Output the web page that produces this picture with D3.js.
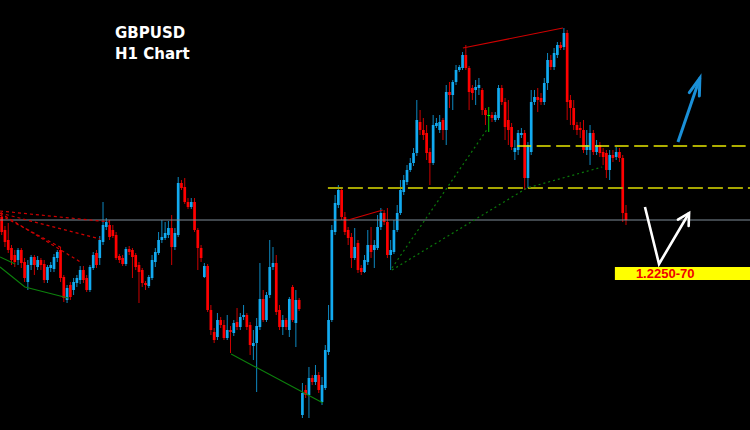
<!DOCTYPE html>
<html><head><meta charset="utf-8">
<script src="https://cdn.jsdelivr.net/npm/d3@7"></script>
<style>html,body{margin:0;padding:0;background:#000;}svg{display:block;}</style>
</head><body>
<svg id="c" width="750" height="430"></svg>
<script>
// GBPUSD H1 candles (price values)
const opens = [
1.2313,1.2300,1.2290,1.2282,1.2275,1.2270,1.2280,1.2268,1.2248,1.2265,
1.2273,1.2263,1.2270,1.2266,1.2250,1.2262,1.2261,1.2272,1.2280,1.2253,
1.2230,1.2245,1.2240,1.2247,1.2250,1.2260,1.2252,1.2240,1.2262,1.2277,
1.2272,1.2288,1.2303,1.2305,1.2300,1.2295,1.2274,1.2272,1.2266,1.2281,
1.2280,1.2275,1.2265,1.2260,1.2247,1.2244,1.2252,1.2268,1.2277,1.2290,
1.2292,1.2295,1.2302,1.2283,1.2295,1.2347,1.2343,1.2328,1.2323,1.2328,
1.2300,1.2282,1.2253,1.2264,1.2220,1.2198,1.2193,1.2210,1.2205,1.2192,
1.2200,1.2197,1.2208,1.2203,1.2213,1.2215,1.2205,1.2184,1.2187,1.2203,
1.2231,1.2210,1.2235,1.2263,1.2267,1.2220,1.2203,1.2210,1.2200,1.2243,
1.2207,1.2230,1.2115,1.2140,1.2135,1.2152,1.2148,1.2155,1.2128,1.2142,
1.2178,1.2210,1.2298,1.2325,1.2340,1.2313,1.2300,1.2293,1.2272,1.2287,
1.2262,1.2258,1.2268,1.2285,1.2280,1.2282,1.2303,1.2317,1.2308,1.2275,
1.2278,1.2300,1.2317,1.2338,1.2348,1.2360,1.2367,1.2377,1.2408,1.2400,
1.2397,1.2378,1.2367,1.2404,1.2400,1.2410,1.2400,1.2438,1.2435,1.2448,
1.2460,1.2462,1.2475,1.2462,1.2442,1.2440,1.2442,1.2440,1.2420,1.2415,
1.2415,1.2410,1.2412,1.2442,1.2428,1.2410,1.2403,1.2378,1.2380,1.2395,
1.2397,1.2352,1.2378,1.2428,1.2433,1.2432,1.2428,1.2447,1.2470,1.2463,
1.2475,1.2485,1.2483,1.2497,1.2430,1.2422,1.2405,1.2402,1.2400,1.2380,
1.2380,1.2397,1.2378,1.2385,1.2378,1.2377,1.2360,1.2375,1.2373,1.2378,
1.2372,1.2317];
const highs = [
1.2318,1.2304,1.2307,1.2285,1.2280,1.2282,1.2282,1.2272,1.2270,1.2275,
1.2275,1.2274,1.2272,1.2270,1.2265,1.2268,1.2276,1.2280,1.2283,1.2255,
1.2245,1.2248,1.2252,1.2255,1.2264,1.2264,1.2255,1.2265,1.2278,1.2280,
1.2294,1.2328,1.2312,1.2310,1.2305,1.2298,1.2276,1.2275,1.2283,1.2284,
1.2282,1.2277,1.2268,1.2262,1.2249,1.2255,1.2275,1.2282,1.2298,1.2310,
1.2308,1.2309,1.2315,1.2302,1.2353,1.2350,1.2352,1.2332,1.2332,1.2332,
1.2302,1.2285,1.2267,1.2266,1.2225,1.2202,1.2217,1.2213,1.2210,1.2215,
1.2204,1.2210,1.2222,1.2217,1.2225,1.2217,1.2208,1.2200,1.2212,1.2267,
1.2240,1.2238,1.2290,1.2283,1.2275,1.2225,1.2215,1.2212,1.2233,1.2245,
1.2240,1.2232,1.2147,1.2145,1.2163,1.2155,1.2165,1.2158,1.2153,1.2185,
1.2225,1.2305,1.2335,1.2345,1.2343,1.2318,1.2303,1.2297,1.2302,1.2290,
1.2265,1.2275,1.2300,1.2303,1.2290,1.2315,1.2322,1.2320,1.2322,1.2290,
1.2310,1.2325,1.2350,1.2355,1.2365,1.2372,1.2382,1.2430,1.2420,1.2412,
1.2405,1.2382,1.2415,1.2412,1.2415,1.2412,1.2445,1.2448,1.2450,1.2465,
1.2465,1.2478,1.2485,1.2464,1.2445,1.2450,1.2452,1.2442,1.2422,1.2423,
1.2418,1.2418,1.2445,1.2445,1.2432,1.2430,1.2407,1.2390,1.2400,1.2402,
1.2400,1.2388,1.2440,1.2440,1.2442,1.2437,1.2452,1.2477,1.2475,1.2482,
1.2488,1.2488,1.2502,1.2500,1.2435,1.2430,1.2408,1.2408,1.2410,1.2400,
1.2405,1.2400,1.2390,1.2388,1.2382,1.2380,1.2380,1.2380,1.2383,1.2382,
1.2375,1.2325];
const lows = [
1.2295,1.2283,1.2277,1.2265,1.2263,1.2265,1.2262,1.2248,1.2240,1.2260,
1.2255,1.2260,1.2260,1.2247,1.2247,1.2258,1.2258,1.2268,1.2248,1.2228,
1.2227,1.2230,1.2235,1.2243,1.2246,1.2247,1.2238,1.2238,1.2260,1.2262,
1.2265,1.2285,1.2300,1.2290,1.2292,1.2270,1.2267,1.2264,1.2264,1.2275,
1.2252,1.2260,1.2227,1.2243,1.2240,1.2242,1.2250,1.2263,1.2275,1.2287,
1.2290,1.2292,1.2265,1.2280,1.2293,1.2340,1.2326,1.2321,1.2321,1.2298,
1.2260,1.2268,1.2252,1.2218,1.2195,1.2187,1.2190,1.2202,1.2190,1.2190,
1.2177,1.2194,1.2200,1.2200,1.2210,1.2200,1.2175,1.2170,1.2138,1.2200,
1.2208,1.2208,1.2232,1.2260,1.2215,1.2200,1.2195,1.2200,1.2193,1.2208,
1.2183,1.2219,1.2112,1.2132,1.2112,1.2145,1.2145,1.2137,1.2125,1.2140,
1.2175,1.2208,1.2295,1.2322,1.2310,1.2295,1.2285,1.2262,1.2270,1.2257,
1.2255,1.2257,1.2265,1.2272,1.2262,1.2280,1.2300,1.2305,1.2272,1.2260,
1.2276,1.2298,1.2315,1.2335,1.2345,1.2358,1.2364,1.2374,1.2395,1.2390,
1.2370,1.2345,1.2365,1.2402,1.2397,1.2390,1.2385,1.2422,1.2420,1.2445,
1.2458,1.2460,1.2460,1.2420,1.2430,1.2425,1.2435,1.2415,1.2405,1.2398,
1.2408,1.2408,1.2410,1.2425,1.2390,1.2385,1.2380,1.2370,1.2375,1.2392,
1.2340,1.2342,1.2375,1.2425,1.2418,1.2425,1.2425,1.2440,1.2460,1.2460,
1.2472,1.2480,1.2480,1.2410,1.2405,1.2400,1.2395,1.2392,1.2377,1.2375,
1.2365,1.2375,1.2375,1.2373,1.2365,1.2352,1.2350,1.2368,1.2370,1.2368,
1.2308,1.2305];
const closes = [
1.2298,1.2288,1.2280,1.2270,1.2268,1.2280,1.2267,1.2252,1.2265,1.2273,
1.2265,1.2270,1.2265,1.2250,1.2263,1.2265,1.2273,1.2278,1.2252,1.2232,
1.2242,1.2233,1.2248,1.2252,1.2260,1.2250,1.2240,1.2263,1.2275,1.2265,
1.2290,1.2305,1.2308,1.2293,1.2294,1.2272,1.2270,1.2266,1.2281,1.2278,
1.2273,1.2263,1.2258,1.2247,1.2245,1.2253,1.2270,1.2278,1.2290,1.2293,
1.2297,1.2302,1.2283,1.2297,1.2347,1.2342,1.2328,1.2323,1.2328,1.2300,
1.2282,1.2272,1.2264,1.2220,1.2200,1.2190,1.2210,1.2205,1.2192,1.2200,
1.2198,1.2207,1.2203,1.2213,1.2215,1.2203,1.2185,1.2187,1.2204,1.2231,
1.2210,1.2235,1.2263,1.2267,1.2218,1.2203,1.2210,1.2203,1.2231,1.2210,
1.2230,1.2221,1.2137,1.2135,1.2152,1.2148,1.2155,1.2140,1.2145,1.2180,
1.2210,1.2300,1.2327,1.2340,1.2313,1.2298,1.2292,1.2272,1.2283,1.2260,
1.2258,1.2270,1.2285,1.2278,1.2285,1.2303,1.2317,1.2308,1.2275,1.2280,
1.2300,1.2317,1.2340,1.2350,1.2360,1.2367,1.2377,1.2410,1.2400,1.2395,
1.2377,1.2367,1.2405,1.2407,1.2408,1.2400,1.2438,1.2435,1.2448,1.2460,
1.2463,1.2475,1.2462,1.2438,1.2437,1.2443,1.2445,1.2420,1.2415,1.2415,
1.2412,1.2415,1.2442,1.2428,1.2403,1.2400,1.2383,1.2382,1.2397,1.2397,
1.2352,1.2385,1.2428,1.2433,1.2430,1.2428,1.2447,1.2470,1.2463,1.2477,
1.2485,1.2482,1.2497,1.2428,1.2422,1.2405,1.2400,1.2400,1.2380,1.2385,
1.2397,1.2378,1.2385,1.2377,1.2373,1.2360,1.2375,1.2372,1.2378,1.2372,
1.2317,1.2310];

// Horizontal levels
const grayLevel = 1.2310;
const lowerLevel = {price: 1.2342, from: 99.8};
const upperLevel = {price: 1.2384, from: 157.7};
// Trend lines [candle index, price]
const redTrend = [[[141.1, 1.2482], [171.7, 1.2502]], [[106.0, 1.2310], [116.6, 1.2320]]];
const redDashed = [[[-0.5, 1.2319], [33.1, 1.2308]], [[-0.5, 1.2317], [30.1, 1.2291]], [[-0.5, 1.2317], [24.6, 1.2267]], [[-0.5, 1.2315], [18.4, 1.2282]]];
const greenTrend = [[[-0.5, 1.2273], [4.1, 1.2266]], [[-0.5, 1.2263], [7.1, 1.2243], [20.3, 1.2232]], [[70.2, 1.2176], [98.3, 1.2127]]];
const greenDotted = [[[119.4, 1.2262], [148.8, 1.2402]], [[119.4, 1.2260], [160.7, 1.2342], [183.7, 1.2363]]];
const blueArrow = [[206.9, 1.2388], [213.6, 1.2452]];
const whiteArrow = [[196.8, 1.2323], [201.1, 1.2266], [210.3, 1.2317]];
const targetLabel = {text: "1.2250-70", low: 1.2250, high: 1.2263, from: 187.6};
const titleLines = ["GBPUSD", "H1 Chart"];

const W = 750, H = 430;
const svg = d3.select("#c");
const n = opens.length;
const x = d3.scaleLinear().domain([0, n - 1]).range([1.7, 626]);
const y = d3.scaleLinear().domain([1.2100, 1.2530]).range([H, 0]);

svg.append("rect").attr("width", W).attr("height", H).attr("fill", "#000");

const UP = "#12aaf0", DN = "#ff0000", DOJI = "#00ff00";
const idx = d3.range(n);
const col = i => opens[i] === closes[i] ? DOJI : (closes[i] > opens[i] ? UP : DN);

const g = svg.append("g");
g.selectAll("line.wick").data(idx).join("line")
  .attr("x1", i => x(i)).attr("x2", i => x(i))
  .attr("y1", i => y(highs[i])).attr("y2", i => y(lows[i]))
  .attr("stroke", col).attr("stroke-width", 1).attr("stroke-opacity", 0.8);
const bw = 2.7;
g.selectAll("rect.body").data(idx).join("rect")
  .attr("x", i => x(i) - bw / 2).attr("width", bw)
  .attr("y", i => y(Math.max(opens[i], closes[i])))
  .attr("height", i => Math.max(1, Math.abs(y(opens[i]) - y(closes[i]))))
  .attr("fill", col);

const line = d3.line().x(d => x(d[0])).y(d => y(d[1]));

// gray level
svg.append("line").attr("x1", 0).attr("x2", W).attr("y1", y(grayLevel)).attr("y2", y(grayLevel))
  .attr("stroke", "#7f8b98").attr("stroke-width", 1.2);
// dashed levels
svg.append("line").attr("x1", x(lowerLevel.from)).attr("x2", W)
  .attr("y1", y(lowerLevel.price)).attr("y2", y(lowerLevel.price))
  .attr("stroke", "#a6a600").attr("stroke-width", 2).attr("stroke-dasharray", "15,5");
svg.append("line").attr("x1", x(upperLevel.from)).attr("x2", W)
  .attr("y1", y(upperLevel.price)).attr("y2", y(upperLevel.price))
  .attr("stroke", "#e8e800").attr("stroke-width", 1.6).attr("stroke-dasharray", "14,5.5");

redTrend.forEach(p => svg.append("path").attr("d", line(p)).attr("fill", "none").attr("stroke", "#d00000").attr("stroke-width", 1.1));
redDashed.forEach(p => svg.append("path").attr("d", line(p)).attr("fill", "none").attr("stroke", "#d00000").attr("stroke-width", 1.2).attr("stroke-dasharray", "3,3"));
greenTrend.forEach(p => svg.append("path").attr("d", line(p)).attr("fill", "none").attr("stroke", "#0c800c").attr("stroke-width", 1.1));
greenDotted.forEach(p => svg.append("path").attr("d", line(p)).attr("fill", "none").attr("stroke", "#0a7a0a").attr("stroke-width", 1.2).attr("stroke-dasharray", "2,3"));

function arrow(pts, color, w, len, ang) {
  svg.append("path").attr("d", line(pts)).attr("fill", "none").attr("stroke", color)
    .attr("stroke-width", w).attr("stroke-linejoin", "miter");
  const a = pts[pts.length - 2], b = pts[pts.length - 1];
  const ax = x(a[0]), ay = y(a[1]), bx = x(b[0]), by = y(b[1]);
  const th = Math.atan2(ay - by, ax - bx);
  const p1 = [bx + len * Math.cos(th + ang), by + len * Math.sin(th + ang)];
  const p2 = [bx + len * Math.cos(th - ang), by + len * Math.sin(th - ang)];
  svg.append("path").attr("d", `M${p1[0]},${p1[1]}L${bx},${by}L${p2[0]},${p2[1]}`)
    .attr("fill", "none").attr("stroke", color).attr("stroke-width", w).attr("stroke-linecap", "round");
}
arrow(blueArrow, "#1a90d8", 3, 18, 0.3);
arrow(whiteArrow, "#ffffff", 2.6, 13, 0.5);

// target label
svg.append("rect").attr("x", x(targetLabel.from)).attr("y", y(targetLabel.high))
  .attr("width", W - x(targetLabel.from)).attr("height", y(targetLabel.low) - y(targetLabel.high))
  .attr("fill", "#ffff00");
svg.append("text").attr("x", x(targetLabel.from) + 21).attr("y", y(targetLabel.low) - 2.5)
  .attr("fill", "#ee0000").attr("font-family", "Liberation Sans, Arial, sans-serif")
  .attr("font-weight", "bold").attr("font-size", 13).text(targetLabel.text);

// title
svg.selectAll("text.title").data(titleLines).join("text").attr("class", "title")
  .attr("x", 115).attr("y", (d, i) => 38 + i * 21)
  .attr("fill", "#ffffff").attr("font-family", "DejaVu Sans, Verdana, sans-serif")
  .attr("font-weight", "bold").attr("font-size", 15).text(d => d);
</script>
</body></html>
